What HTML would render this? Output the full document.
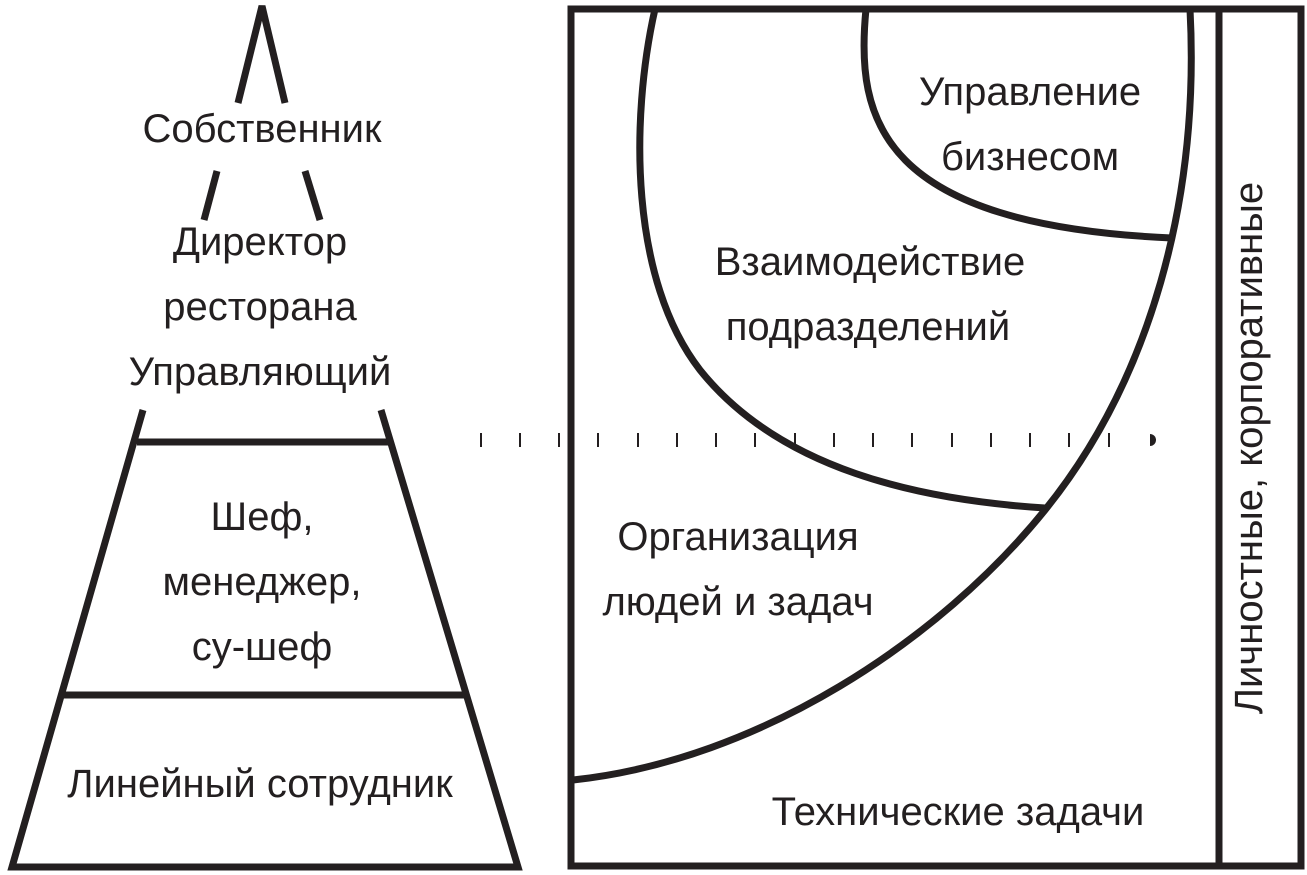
<!DOCTYPE html>
<html><head><meta charset="utf-8"><style>
html,body{margin:0;padding:0;background:#fff;}
svg{display:block;}
text{font-family:"Liberation Sans",sans-serif;fill:#231f20;font-size:40px;}
</style></head><body>
<svg width="1307" height="875" viewBox="0 0 1307 875">
<g stroke="#231f20" stroke-width="7" fill="none" stroke-linecap="butt">
<polyline points="238,103 262,6 285,103"/>
<line x1="217" y1="171" x2="204" y2="220"/>
<line x1="305" y1="171" x2="320" y2="220"/>
<polyline points="143,410 12,867 518,867 381,410" stroke-linejoin="miter"/>
<line x1="137" y1="442" x2="388" y2="442"/>
<line x1="60" y1="695" x2="465" y2="695"/>
<rect x="571" y="9" width="730" height="857"/>
<line x1="1219" y1="9" x2="1219" y2="866"/>
<path d="M655,9 C630,120 630,280 700,370 C780,470 920,500 1045,508"/>
<path d="M866,9 C855,120 880,225 1172,238"/>
<path d="M1190,9 C1200,200 1150,380 1045,510 C940,640 760,760 573,780"/>
</g>
<g stroke="#231f20" stroke-width="2">
<line x1="481" y1="433" x2="481" y2="447"/><line x1="520" y1="433" x2="520" y2="447"/><line x1="559" y1="433" x2="559" y2="447"/><line x1="598" y1="433" x2="598" y2="447"/><line x1="638" y1="433" x2="638" y2="447"/><line x1="677" y1="433" x2="677" y2="447"/><line x1="716" y1="433" x2="716" y2="447"/><line x1="755" y1="433" x2="755" y2="447"/><line x1="795" y1="433" x2="795" y2="447"/><line x1="834" y1="433" x2="834" y2="447"/><line x1="873" y1="433" x2="873" y2="447"/><line x1="912" y1="433" x2="912" y2="447"/><line x1="952" y1="433" x2="952" y2="447"/><line x1="991" y1="433" x2="991" y2="447"/><line x1="1030" y1="433" x2="1030" y2="447"/><line x1="1069" y1="433" x2="1069" y2="447"/><line x1="1109" y1="433" x2="1109" y2="447"/>
</g>
<path d="M1150,434 A6,6 0 0 1 1150,446 Z" fill="#231f20"/>
<g text-anchor="middle">
<text x="262" y="142">Собственник</text>
<text x="260" y="255">Директор</text>
<text x="260" y="320">ресторана</text>
<text x="260" y="385">Управляющий</text>
<text x="262" y="530">Шеф,</text>
<text x="262" y="595">менеджер,</text>
<text x="262" y="660">су-шеф</text>
<text x="260" y="797">Линейный сотрудник</text>
<text x="1030" y="105">Управление</text>
<text x="1030" y="170">бизнесом</text>
<text x="870" y="275">Взаимодействие</text>
<text x="868" y="340">подразделений</text>
<text x="738" y="550">Организация</text>
<text x="738" y="615">людей и задач</text>
<text x="958" y="825">Технические задачи</text>
<text transform="translate(1262,448) rotate(-90)">Личностные, корпоративные</text>
</g>
</svg>
</body></html>
